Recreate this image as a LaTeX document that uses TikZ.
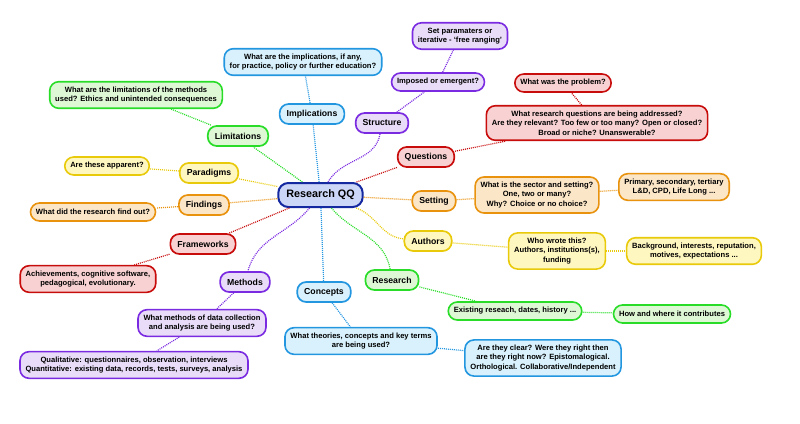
\documentclass[tikz,border=0pt]{standalone}
\usepackage{fontspec}
\setmainfont{Liberation Sans}
\definecolor{qqnavy}{HTML}{1428A0}
\definecolor{qqnavyfill}{HTML}{CCD6F6}
\definecolor{qqblue}{HTML}{2396E0}
\definecolor{qqbluefill}{HTML}{D8F1FC}
\definecolor{qqpurple}{HTML}{7A2AE0}
\definecolor{qqpurplefill}{HTML}{E8DCF8}
\definecolor{qqred}{HTML}{C80C0C}
\definecolor{qqredfill}{HTML}{F8D2D2}
\definecolor{qqorange}{HTML}{E8920E}
\definecolor{qqorangefill}{HTML}{FCE6C8}
\definecolor{qqyellow}{HTML}{E8CA0A}
\definecolor{qqyellowfill}{HTML}{FFF7C0}
\definecolor{qqgreen}{HTML}{28DC28}
\definecolor{qqgreenfill}{HTML}{DEF8D6}

\begin{document}
\begin{tikzpicture}[
    topic/.style={draw, rounded corners=9pt, line width=1.7pt, inner xsep=7pt, minimum height=20pt,
        font=\bfseries\fontsize{8.7}{10}\selectfont},
    leaf/.style={draw, rounded corners=9pt, line width=1.6pt, inner xsep=5.5pt, inner ysep=5pt,
        minimum height=18pt, align=center, font=\bfseries\fontsize{7.6}{9.5}\selectfont},
    bluebox/.style={draw=qqblue, fill=qqbluefill},
    purplebox/.style={draw=qqpurple, fill=qqpurplefill},
    redbox/.style={draw=qqred, fill=qqredfill},
    orangebox/.style={draw=qqorange, fill=qqorangefill},
    yellowbox/.style={draw=qqyellow, fill=qqyellowfill},
    greenbox/.style={draw=qqgreen, fill=qqgreenfill},
    link/.style={line width=1.2pt, dash pattern=on 1pt off 1pt},
    x=1pt, y=-1pt]

    \useasboundingbox (0, 0) rectangle (800, 423);

    % ----- the central question
    \node[topic, draw=qqnavy, fill=qqnavyfill, line width=2pt, rounded corners=10pt, minimum height=24pt,
        inner xsep=8pt, font=\bfseries\fontsize{10.8}{12}\selectfont] (root) at (320.5, 195) {Research QQ};

    % ----- first ring of topics
    \node[topic, bluebox]   (impl)      at (312, 114) {Implications};
    \node[topic, purplebox] (struct)    at (382, 123) {Structure};
    \node[topic, redbox]    (quest)     at (426, 157) {Questions};
    \node[topic, orangebox] (setting)   at (434, 201) {Setting};
    \node[topic, yellowbox] (authors)   at (428, 241) {Authors};
    \node[topic, greenbox]  (research)  at (392, 280) {Research};
    \node[topic, bluebox]   (concepts)  at (324, 292) {Concepts};
    \node[topic, purplebox] (methods)   at (245, 282) {Methods};
    \node[topic, redbox]    (frames)    at (203, 244) {Frameworks};
    \node[topic, orangebox] (finds)     at (204, 205) {Findings};
    \node[topic, yellowbox] (paradigms) at (209, 173) {Paradigms};
    \node[topic, greenbox]  (limits)    at (238, 136) {Limitations};

    % ----- prompts hanging off each topic
    \node[leaf, bluebox]   (impl1)      at (303, 62)  {What are the implications, if any,\\for practice, policy or further education?};
    \node[leaf, purplebox] (struct1)    at (438, 82)  {Imposed or emergent?};
    \node[leaf, purplebox] (struct2)    at (460, 36)  {Set paramaters or\\iterative - `free ranging'};
    \node[leaf, redbox]    (quest1)     at (597, 123) {What research questions are being addressed?\\Are they relevant? Too few or too many? Open or closed?\\Broad or niche? Unanswerable?};
    \node[leaf, redbox]    (quest2)     at (563, 83)  {What was the problem?};
    \node[leaf, orangebox] (setting1)   at (537, 195) {What is the sector and setting?\\One, two or many?\\Why? Choice or no choice?};
    \node[leaf, orangebox] (setting2)   at (674, 187) {Primary, secondary, tertiary\\L\&D, CPD, Life Long ...};
    \node[leaf, yellowbox] (authors1)   at (557, 251) {Who wrote this?\\Authors, institutions(s),\\funding};
    \node[leaf, yellowbox] (authors2)   at (694, 251) {Background, interests, reputation,\\motives, expectations ...};
    \node[leaf, greenbox]  (research1)  at (515, 311) {Existing reseach, dates, history ...};
    \node[leaf, greenbox]  (research2)  at (672, 314) {How and where it contributes};
    \node[leaf, bluebox]   (concepts1)  at (361, 341) {What theories, concepts and key terms\\are being used?};
    \node[leaf, bluebox]   (concepts2)  at (543, 358) {Are they clear? Were they right then\\are they right now? Epistomalogical.\\Orthological. Collaborative/Independent};
    \node[leaf, purplebox] (methods1)   at (202, 323) {What methods of data collection\\and analysis are being used?};
    \node[leaf, purplebox] (methods2)   at (134, 365) {Qualitative: questionnaires, observation, interviews\\Quantitative: existing data, records, tests, surveys, analysis};
    \node[leaf, redbox]    (frames1)    at (88, 279)  {Achievements, cognitive software,\\pedagogical, evolutionary.};
    \node[leaf, orangebox] (finds1)     at (93, 212)  {What did the research find out?};
    \node[leaf, yellowbox] (paradigms1) at (107, 166) {Are these apparent?};
    \node[leaf, greenbox]  (limits1)    at (136, 95)  {What are the limitations of the methods\\used? Ethics and unintended consequences};

    % ----- branches from the centre
    \draw[link, qqblue]   (root) -- (impl);
    \draw[link, qqpurple] (root) to[out=60, in=-100] (struct);
    \draw[link, qqred]    (root) -- (quest);
    \draw[link, qqorange] (root) -- (setting);
    \draw[link, qqyellow] (root) to[out=-20, in=175] (authors);
    \draw[link, qqgreen]  (root) to[out=-50, in=100] (research);
    \draw[link, qqblue]   (root) -- (concepts);
    \draw[link, qqpurple] (root) to[out=-130, in=75] (methods);
    \draw[link, qqred]    (root) -- (frames);
    \draw[link, qqorange] (root) -- (finds);
    \draw[link, qqyellow] (root) -- (paradigms);
    \draw[link, qqgreen]  (root) -- (limits);

    % ----- twigs out to the prompts
    \foreach \a/\b/\c in {impl/impl1/qqblue, struct/struct1/qqpurple, struct1/struct2/qqpurple,
        quest/quest1/qqred, quest1/quest2/qqred, setting/setting1/qqorange, setting1/setting2/qqorange,
        authors/authors1/qqyellow, authors1/authors2/qqyellow, research/research1/qqgreen,
        research1/research2/qqgreen, concepts/concepts1/qqblue, concepts1/concepts2/qqblue,
        methods/methods1/qqpurple, methods1/methods2/qqpurple, frames/frames1/qqred,
        finds/finds1/qqorange, paradigms/paradigms1/qqyellow, limits/limits1/qqgreen} {
        \draw[link, \c] (\a) -- (\b);
    }
\end{tikzpicture}
\end{document}
